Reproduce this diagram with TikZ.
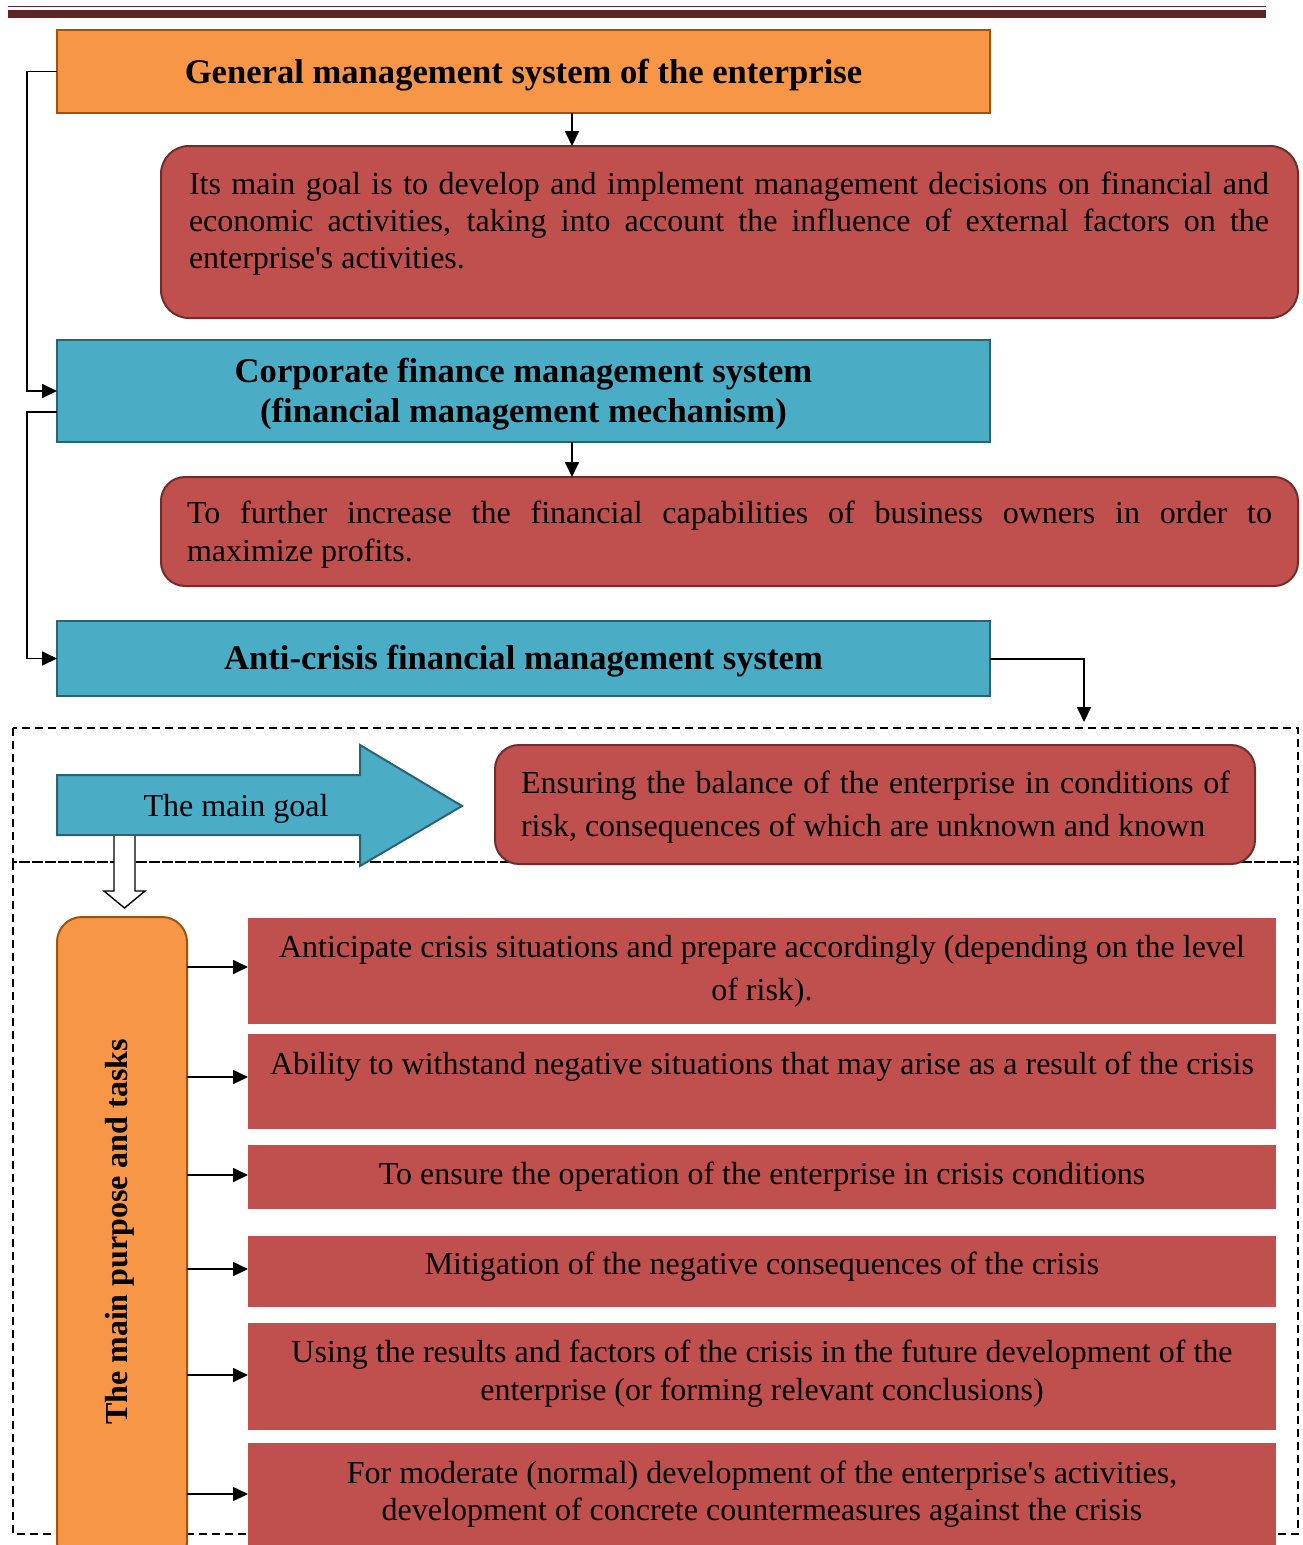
\documentclass[tikz,border=0pt]{standalone}
\usepackage{fontspec}
\setmainfont{Liberation Serif}
\usetikzlibrary{arrows.meta}
\definecolor{orfill}{HTML}{F79646}
\definecolor{orline}{HTML}{A0520E}
\definecolor{blfill}{HTML}{4BACC6}
\definecolor{blline}{HTML}{2A6375}
\definecolor{rdfill}{HTML}{C0504D}
\definecolor{rdline}{HTML}{722C2A}
\definecolor{hdline}{HTML}{622423}
\tikzset{
  every node/.append style={font=\fontsize{32}{37}\selectfont},
  box/.style={draw, line width=2pt, outer sep=0pt, inner sep=0pt, anchor=north west},
  orbox/.style={box, fill=orfill, draw=orline},
  blbox/.style={box, fill=blfill, draw=blline},
  rdbox/.style={box, fill=rdfill, draw=rdline, rounded corners=28pt},
  task/.style={fill=rdfill, outer sep=0pt, inner sep=0pt, anchor=north west, minimum width=1028pt},
  conn/.style={line width=1.8pt, -{Triangle[length=15pt,width=14pt]}},
  txt/.style={inner sep=0pt},
  head/.style={inner sep=0pt, align=center, font=\fontsize{34.6}{40}\selectfont\bfseries},
  dbox/.style={draw, line width=1.8pt, dash pattern=on 8pt off 5pt},
}
\begin{document}
\begin{tikzpicture}[x=1pt,y=-1pt]
\useasboundingbox (0,0) rectangle (1302,1545);
\fill[white] (0,0) rectangle (1302,1545);
\clip (0,0) rectangle (1302,1545);
% header rule
\draw[hdline, line width=1.6pt] (8,6.5) -- (1266,6.5);
\draw[hdline, line width=7.5pt] (8,14) -- (1266,14);
% dashed frames
\draw[dbox] (13,728) rectangle (1298,862);
\draw[dbox] (13,862) rectangle (1298,1534);
% top part
\node[orbox, minimum width=933pt, minimum height=83pt] (gen) at (57,30) {};
\node[head] (gent) at (523.5,75) {General management system of the enterprise};
\node[rdbox, minimum width=1137pt, minimum height=172pt] (g1) at (161,146) {};
\node[txt, text width=1080pt, align=justify] (g1t) at (729,224) {Its main goal is to develop and implement management decisions on financial and\linebreak economic activities, taking into account the influence of external factors on the\linebreak enterprise\textquotesingle s activities.};
\node[blbox, minimum width=933pt, minimum height=102pt] (corp) at (57,340) {};
\node[head] (corpt) at (523.5,394.5) {Corporate finance management system\\(financial management mechanism)};
\node[rdbox, rounded corners=24pt, minimum width=1137pt, minimum height=109pt] (g2) at (161,477) {};
\node[txt, text width=1085pt, align=justify, font=\fontsize{32}{38}\selectfont] (g2t) at (729.5,534.5) {To further increase the financial capabilities of business owners in order to\linebreak maximize profits.};
\node[blbox, minimum width=933pt, minimum height=75pt] (anti) at (57,621) {};
\node[head] (antit) at (523.5,661) {Anti-crisis financial management system};
\coordinate (dtop) at (1084,722);
% connectors top
\draw[conn] (gen.south -| 572,0) -- (g1.north -| 572,0);
\draw[conn] (corp.south -| 572,0) -- (g2.north -| 572,0);
\draw[conn] (gen.west) -- (27,71.5) |- (corp.west);
\draw[conn] ([yshift=-21pt]corp.west) -- (27,412) |- (anti.west);
\draw[conn] ([yshift=-0.5pt]anti.east) -| (dtop);
% main goal arrow
\draw[fill=blfill, draw=blline, line width=2pt, line join=miter] (57,775) -- (360,775) -- (360,745) -- (462,806) -- (360,866) -- (360,835) -- (57,835) -- cycle;
\node[txt] (goalt) at (236,809) {The main goal};
\node[rdbox, rounded corners=24pt, minimum width=760pt, minimum height=119pt] (ens) at (495,745) {};
\node[txt, text width=709pt, align=justify, font=\fontsize{32}{43}\selectfont] (enst) at (875.5,807.5) {Ensuring the balance of the enterprise in conditions of\linebreak risk, consequences of which are unknown and known};
% hollow down arrow
\draw[fill=white, line width=1.4pt, line join=miter] (114,836) -- (114,891) -- (104,891) -- (124.5,908) -- (145,891) -- (135,891) -- (135,836);
% purpose box
\node[orbox, rounded corners=25pt, minimum width=130pt, minimum height=650pt] (purp) at (57,917) {};
\node[txt, rotate=90, font=\fontsize{32}{37}\selectfont\bfseries] (purpt) at (120,1232) {The main purpose and tasks};
% tasks
\node[task, minimum height=106pt] (t1) at (248,918) {};
\node[txt, align=center, font=\fontsize{32}{43}\selectfont] (t1t) at (762,971) {Anticipate crisis situations and prepare accordingly (depending on the level\\of risk).};
\node[task, minimum height=95pt] (t2) at (248,1034) {};
\node[txt] (t2t) at (762,1067) {Ability to withstand negative situations that may arise as a result of the crisis};
\node[task, minimum height=64pt] (t3) at (248,1145) {};
\node[txt] (t3t) at (762,1177) {To ensure the operation of the enterprise in crisis conditions};
\node[task, minimum height=71pt] (t4) at (248,1236) {};
\node[txt] (t4t) at (762,1267) {Mitigation of the negative consequences of the crisis};
\node[task, minimum height=107pt] (t5) at (248,1323) {};
\node[txt, align=center, font=\fontsize{32}{38}\selectfont] (t5t) at (762,1374) {Using the results and factors of the crisis in the future development of the\\enterprise (or forming relevant conclusions)};
\node[task, minimum height=130pt] (t6) at (248,1443) {};
\node[txt, align=center] (t6t) at (762,1494) {For moderate (normal) development of the enterprise\textquotesingle s activities,\\development of concrete countermeasures against the crisis};
% task arrows
\foreach \t/\yy in {t1/967, t2/1077, t3/1175, t4/1269, t5/1375, t6/1494}{
  \draw[conn] (purp.east |- 0,\yy) -- (\t.west |- 0,\yy);
}
\end{tikzpicture}
\end{document}
